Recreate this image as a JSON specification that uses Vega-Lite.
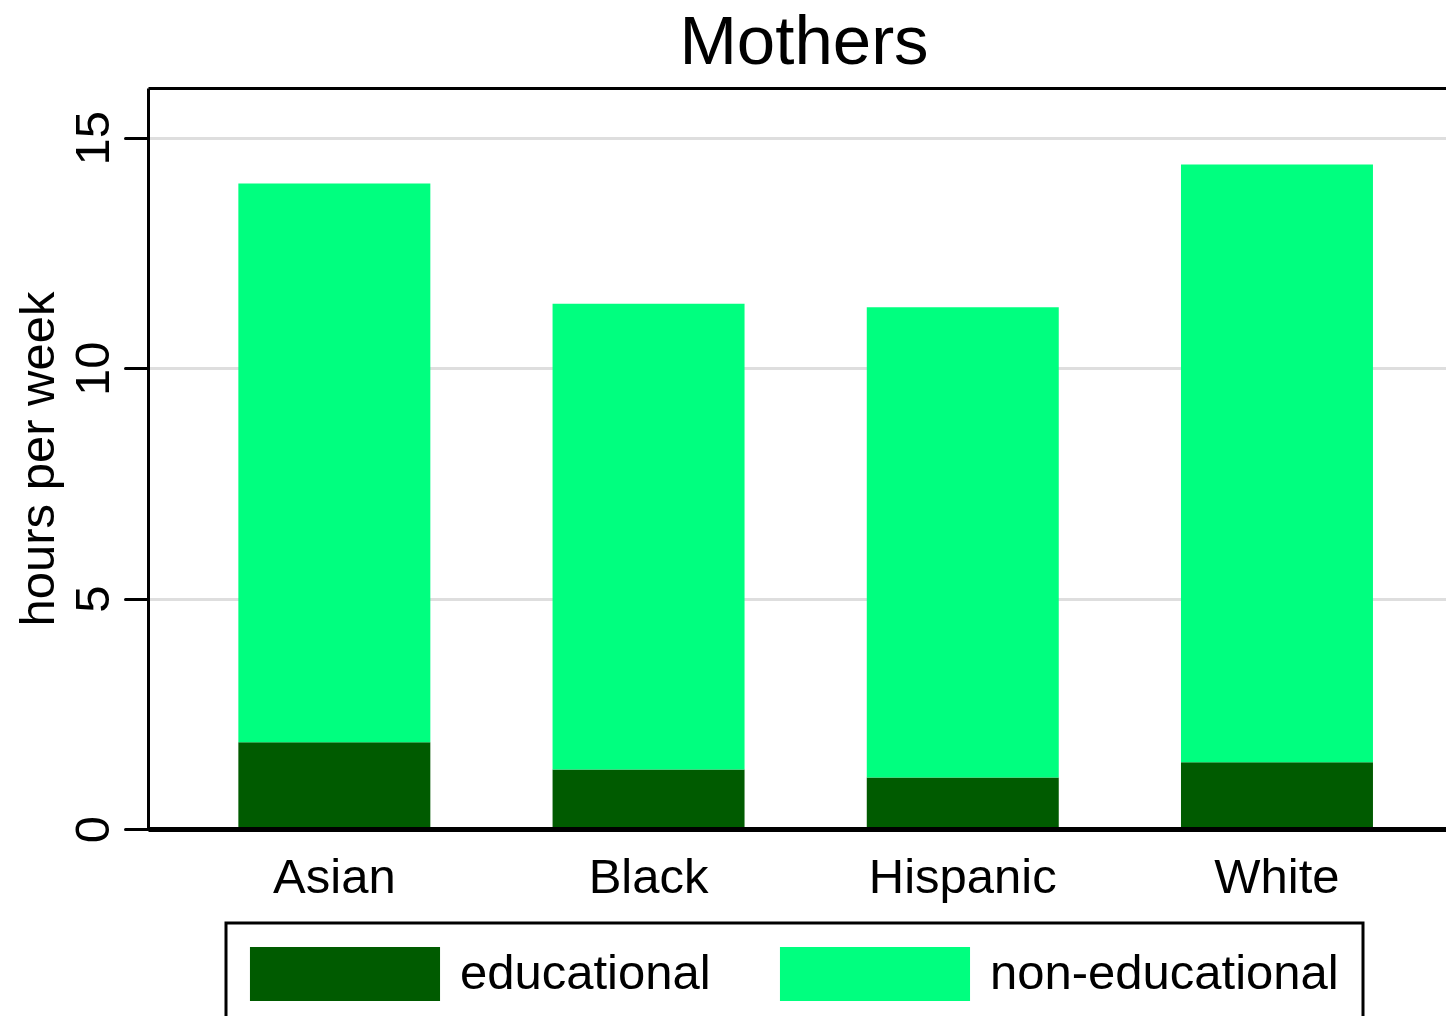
{
  "$schema": "https://vega.github.io/schema/vega-lite/v6.json",
  "autosize": {"type": "none"},
  "padding": {"left": 148, "top": 88, "right": 0, "bottom": 187},
  "width": 1298,
  "height": 741,
  "background": "white",
  "title": {
    "text": "Mothers",
    "fontSize": 69,
    "font": "Liberation Sans",
    "fontWeight": "normal",
    "color": "black",
    "anchor": "middle",
    "frame": "group",
    "baseline": "alphabetic",
    "offset": 8,
    "dx": 7,
    "dy": 53
  },
  "config": {
    "view": {"stroke": null},
    "font": "Liberation Sans"
  },
  "data": {
    "values": [
      {"race": "Asian", "type": "educational", "hours": 1.88},
      {"race": "Asian", "type": "non-educational", "hours": 12.13},
      {"race": "Black", "type": "educational", "hours": 1.29},
      {"race": "Black", "type": "non-educational", "hours": 10.11},
      {"race": "Hispanic", "type": "educational", "hours": 1.12},
      {"race": "Hispanic", "type": "non-educational", "hours": 10.2},
      {"race": "White", "type": "educational", "hours": 1.45},
      {"race": "White", "type": "non-educational", "hours": 12.97}
    ]
  },
  "layer": [
    {
      "mark": {"type": "bar", "opacity": 1},
      "encoding": {
        "x": {
          "field": "race",
          "type": "nominal",
          "sort": ["Asian", "Black", "Hispanic", "White"],
          "scale": {"paddingInner": 0.389, "paddingOuter": 0.26, "align": 0.553},
          "axis": {
            "title": null,
            "labelAngle": 0,
            "labelFontSize": 49,
            "labelFont": "Liberation Sans",
            "labelColor": "black",
            "labelBaseline": "alphabetic",
            "labelPadding": 63,
            "labelLimit": 0,
            "ticks": false,
            "tickSize": 0,
            "domain": true,
            "domainColor": "black",
            "domainWidth": 5,
            "grid": false,
            "zindex": 1
          }
        },
        "y": {
          "field": "hours",
          "type": "quantitative",
          "stack": "zero",
          "scale": {"domain": [0, 16.08], "nice": false, "zero": true},
          "axis": {
            "title": "hours per week",
            "titleFontSize": 49,
            "titleFont": "Liberation Sans",
            "titleFontWeight": "normal",
            "titleColor": "black",
            "titleAngle": -90,
            "titleAlign": "center",
            "titleBaseline": "alphabetic",
            "titleX": -95,
            "titleY": 370.5,
            "values": [0, 5, 10, 15],
            "labelAngle": -90,
            "labelAlign": "center",
            "labelBaseline": "alphabetic",
            "labelFontSize": 49,
            "labelFont": "Liberation Sans",
            "labelColor": "black",
            "labelPadding": 17,
            "tickSize": 23,
            "tickWidth": 3,
            "tickColor": "black",
            "tickCap": "round",
            "domain": true,
            "domainColor": "black",
            "domainWidth": 3,
            "grid": true,
            "gridColor": "#dedede",
            "gridWidth": 3,
            "zindex": 0
          }
        },
        "color": {
          "field": "type",
          "type": "nominal",
          "scale": {"domain": ["educational", "non-educational"], "range": ["#005b00", "#00ff7f"]},
          "legend": {
            "title": null,
            "orient": "none",
            "direction": "horizontal",
            "legendX": 78,
            "legendY": 835,
            "padding": 24,
            "strokeColor": "black",
            "fillColor": "white",
            "symbolType": "M-3.52,-1H3.52V1H-3.52Z",
            "symbolSize": 2916,
            "symbolOffset": 68,
            "symbolStrokeWidth": 0,
            "symbolOpacity": 1,
            "labelFontSize": 49,
            "labelFont": "Liberation Sans",
            "labelColor": "black",
            "labelOffset": 88,
            "labelLimit": 0,
            "columnPadding": 68,
            "labelExpr": "datum.value == 'non-educational' ? datum.label + '\u2002' : datum.label",
            "encode": {"legend": {"update": {"strokeWidth": {"value": 3}}}}
          }
        },
        "order": {"field": "type", "sort": "ascending"}
      }
    },
    {
      "mark": {"type": "bar", "opacity": 0},
      "encoding": {
        "x": {
          "field": "race",
          "type": "nominal",
          "sort": ["Asian", "Black", "Hispanic", "White"],
          "axis": {
            "orient": "top",
            "title": null,
            "labels": false,
            "ticks": false,
            "domain": true,
            "domainColor": "black",
            "domainWidth": 3,
            "grid": false,
            "zindex": 1
          }
        },
        "y": {"field": "hours", "type": "quantitative", "stack": "zero"}
      }
    }
  ],
  "resolve": {"axis": {"x": "independent"}}
}
